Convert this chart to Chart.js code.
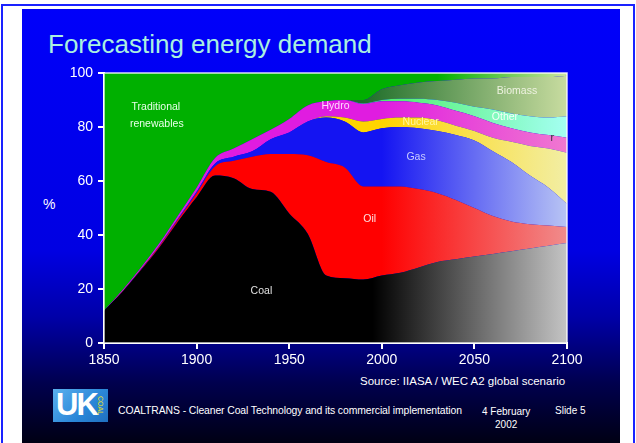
<!DOCTYPE html>
<html>
<head>
<meta charset="utf-8">
<script src="https://cdn.jsdelivr.net/npm/chart.js"></script>
<style>
  body { margin: 0; background: #fff; font-family: Arial, "Liberation Sans", sans-serif; }
  #pagina { position: relative; width: 636px; height: 443px; overflow: hidden; background: #fff; }
  #marco { position: absolute; left: 1px; top: 4px; width: 634px; height: 445px; border: 2px solid #1a22ff; box-sizing: border-box; }
  #diapositiva { position: absolute; left: 22px; top: 9px; width: 598px; height: 440px;
    background: linear-gradient(to bottom, #0000fa 0%, #0000e2 55%, #0000a8 70%, #00004e 85%, #00000e 100%); }
  .texto { position: absolute; color: #fff; white-space: nowrap; }
  #titulo { left: 48px; top: 29px; font-size: 26px; color: #aaf0e0; }
  #porcentaje { left: 43px; top: 196px; font-size: 14px; }
  #fuente { left: 360px; top: 375px; font-size: 11.5px; }
  #pie { left: 118px; top: 405px; font-size: 10.4px; letter-spacing: -0.1px; }
  #fecha { left: 482px; top: 405px; font-size: 10px; text-align: center; line-height: 13px; }
  #diapo { left: 555px; top: 405px; font-size: 10px; }
  #logo { position: absolute; left: 53px; top: 389px; width: 55px; height: 33px;
    background: linear-gradient(135deg, #5ab0ee 0%, #2a86d8 60%, #1f6fc0 100%); }
  #logo .uk { position: absolute; left: 3px; top: -2px; font-size: 31px; font-weight: bold; color: #fff; letter-spacing: -2px; }
  #logo .coal { position: absolute; left: 38px; top: 13px; font-size: 7px; color: #e6e020; transform: rotate(90deg); transform-origin: center; }
  canvas { position: absolute; left: 0; top: 0; }
</style>
</head>
<body>
<div id="pagina">
  <div id="marco"></div>
  <div id="diapositiva"></div>
  <div class="texto" id="titulo">Forecasting energy demand</div>
  <div class="texto" id="porcentaje">%</div>
  <div class="texto" id="fuente">Source: IIASA / WEC A2 global scenario</div>
  <div id="logo"><span class="uk">UK</span><span class="coal">COAL</span></div>
  <div class="texto" id="pie">COALTRANS - Cleaner Coal Technology and its commercial implementation</div>
  <div class="texto" id="fecha">4 February<br>2002</div>
  <div class="texto" id="diapo">Slide 5</div>
  <canvas id="miGrafico" width="636" height="443"></canvas>
</div>
<script>
// Años del eje x
const anios = [1850, 1860, 1870, 1880, 1890, 1900, 1910, 1920, 1930, 1940, 1950, 1960, 1970,
               1980, 1990, 2000, 2010, 2020, 2030, 2040, 2050, 2060, 2070, 2080, 2090, 2100];

// Participación de cada fuente (%)
const carbon      = [12, 19, 27, 35.5, 45, 54, 62, 61, 57, 56, 48, 40.5, 25, 24, 23.5, 25, 26, 28, 30, 31, 32, 33, 34, 35, 36, 37];
const petroleo    = [0, 0.2, 0.3, 0.5, 0.8, 1.5, 3.5, 6.5, 12, 14, 22, 29, 42, 41, 34.5, 33, 32, 29, 25.5, 22, 18, 14, 11, 9, 7.5, 6];
const gas         = [0, 0, 0.1, 0.2, 0.3, 0.5, 1, 1.5, 2, 5.5, 8, 12.5, 16.5, 17, 20, 21.5, 22, 22.5, 23, 24, 25, 24, 22, 18, 14, 8.5];
const nuclear     = [0, 0, 0, 0, 0, 0, 0, 0, 0, 0, 0, 0, 0.5, 1.5, 4, 3.5, 3.5, 4, 4, 3.5, 3.5, 5, 7.5, 11, 14.5, 19];
const hidro       = [0, 0.4, 0.6, 0.8, 1.1, 1.5, 2, 3, 4.5, 3.5, 5, 6, 5.5, 6.5, 6.5, 6.5, 6, 5.5, 5.5, 5.5, 5.5, 5.5, 5, 5, 5, 5.5];
const otras       = [0, 0, 0, 0, 0, 0, 0, 0, 0, 0, 0, 0, 0, 0, 0.2, 0.5, 1, 1.5, 2, 3, 3.5, 5, 5.5, 6, 6.5, 8];
const biomasa     = [0, 0, 0, 0, 0, 0, 0, 0, 0, 0, 0, 0, 0, 0, 1.3, 4, 5, 6, 7, 8.5, 10.5, 11.5, 13.5, 14.5, 15, 15];
const tradicional = [88, 80.4, 72, 63, 52.8, 42.5, 31.5, 28, 24.5, 21, 17, 12, 10.5, 10, 10, 6, 4.5, 3.5, 3, 2.5, 2, 2, 1.5, 1.5, 1.5, 1];

// Ticks de los ejes
const ticksX = [1850, 1900, 1950, 2000, 2050, 2100];
const ticksY = [0, 20, 40, 60, 80, 100];

// Etiquetas dentro de las áreas
const etiquetas     = ['Traditional', 'renewables', 'Hydro', 'Nuclear', 'Gas', 'Oil', 'Coal', 'Biomass', 'Other', 'r'];
const etiquetaAnio  = [1878, 1878.5, 1975, 2021, 2018.5, 1993.5, 1935, 2073, 2066.5, 2092];
const etiquetaPct   = [87.4, 81, 87.8, 81.9, 68.9, 46, 19.3, 93.3, 83.7, 76];
const etiquetaColor = ['#e8ffe8', '#e8ffe8', '#ffd8ff', '#fff6a0', '#c8ccff', '#ffe0e0', '#e0e0e0', '#eef2e0', '#f4fff8', '#333'];

// Función para crear un degradado horizontal (la parte futura se aclara)
function degradado(chart, solido, claro, inicio) {
    const area = chart.chartArea;
    if (!area) return solido;
    const g = chart.ctx.createLinearGradient(area.left, 0, area.right, 0);
    g.addColorStop(0, solido);
    g.addColorStop(inicio, solido);
    g.addColorStop(1, claro);
    return g;
}

function serie(nombre, valores, solido, claro, inicio, i) {
    return {
        label: nombre,
        data: anios.map((a, k) => ({ x: a, y: valores[k] })),
        backgroundColor: (ctx) => degradado(ctx.chart, solido, claro, inicio),
        borderWidth: 0,
        pointRadius: 0,
        fill: i === 0 ? 'origin' : '-1',
        cubicInterpolationMode: 'monotone'
    };
}

// Plugin para el marco blanco y los textos de las áreas
const decoracion = {
    id: 'decoracion',
    afterDatasetsDraw(chart) {
        const { ctx, chartArea, scales } = chart;
        ctx.save();
        ctx.strokeStyle = 'rgba(255,255,255,0.85)';
        ctx.lineWidth = 1.5;
        ctx.strokeRect(chartArea.left, chartArea.top, chartArea.right - chartArea.left, chartArea.bottom - chartArea.top);
        ctx.font = '10.5px Arial, "Liberation Sans", sans-serif';
        ctx.textAlign = 'center';
        ctx.textBaseline = 'middle';
        etiquetas.forEach((t, i) => {
            ctx.fillStyle = etiquetaColor[i];
            ctx.fillText(t, scales.x.getPixelForValue(etiquetaAnio[i]), scales.y.getPixelForValue(etiquetaPct[i]));
        });
        ctx.restore();
    }
};

function crearGrafico() {
    const ctx = document.getElementById('miGrafico').getContext('2d');
    new Chart(ctx, {
        type: 'line',
        data: {
            datasets: [
                serie('Coal', carbon, '#000000', '#c4c4c4', 0.58, 0),
                serie('Oil', petroleo, '#ff0000', '#f08c8c', 0.6, 1),
                serie('Gas', gas, '#1414f2', '#b8c4f4', 0.6, 2),
                serie('Nuclear', nuclear, '#ffd400', '#f2eea4', 0.6, 3),
                serie('Hydro', hidro, '#e01ce0', '#f078d0', 0.6, 4),
                serie('Other', otras, '#50f070', '#a4fff2', 0.62, 5),
                serie('Biomass', biomasa, '#1f6e2a', '#c8dca0', 0.56, 6),
                serie('Traditional renewables', tradicional, '#00b000', '#cce4a0', 0.72, 7)
            ]
        },
        options: {
            responsive: false,
            devicePixelRatio: 1,
            animation: false,
            layout: { padding: { left: 54, top: 73, right: 69, bottom: 70 } },
            plugins: { legend: { display: false }, tooltip: { enabled: false } },
            scales: {
                x: {
                    type: 'linear',
                    min: 1850,
                    max: 2100,
                    afterBuildTicks: (s) => { s.ticks = ticksX.map(v => ({ value: v })); },
                    afterFit: (s) => { s.height = 30; },
                    border: { color: '#ffffff', width: 2 },
                    grid: { drawOnChartArea: false, drawTicks: true, tickLength: 6, color: '#ffffff', lineWidth: 2 },
                    ticks: { color: '#ffffff', font: { size: 14, family: 'Arial, "Liberation Sans", sans-serif' }, padding: 3,
                             maxRotation: 0, callback: (v) => String(v) }
                },
                y: {
                    stacked: true,
                    min: 0,
                    max: 100,
                    afterBuildTicks: (s) => { s.ticks = ticksY.map(v => ({ value: v })); },
                    afterFit: (s) => { s.width = 50; },
                    border: { color: '#ffffff', width: 2 },
                    grid: { drawOnChartArea: false, drawTicks: true, tickLength: 6, color: '#ffffff', lineWidth: 2 },
                    ticks: { color: '#ffffff', font: { size: 14, family: 'Arial, "Liberation Sans", sans-serif' }, padding: 5 }
                }
            }
        },
        plugins: [decoracion]
    });
}

document.addEventListener('DOMContentLoaded', () => {
    crearGrafico();
});
</script>
</body>
</html>
